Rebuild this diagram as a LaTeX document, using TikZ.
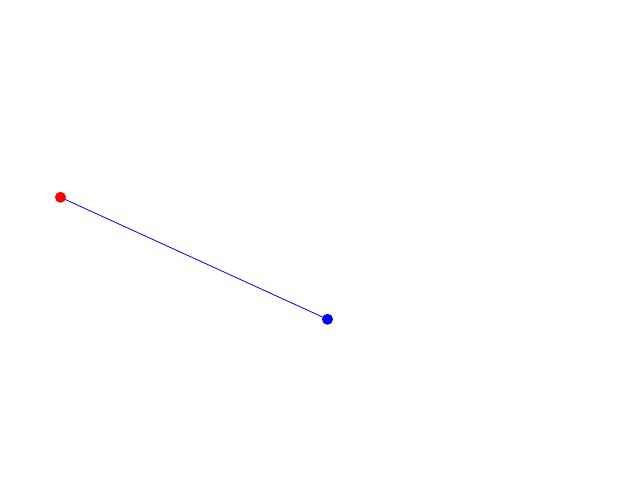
\documentclass[tikz,border=0pt]{standalone}
\usetikzlibrary{backgrounds}
\begin{document}
\begin{tikzpicture}[x=1pt,y=-1pt,
  dot/.style={circle,inner sep=0pt,minimum size=11pt,fill=#1,draw=none}]
\useasboundingbox (0,0) rectangle (640,480);
\node[dot=red] (a) at (60.5,197.3) {};
\node[dot=blue] (b) at (327.5,319.3) {};
\begin{scope}[on background layer]
\draw[blue,line width=0.8pt] (a.center) -- (b.center);
\end{scope}
\end{tikzpicture}
\end{document}
